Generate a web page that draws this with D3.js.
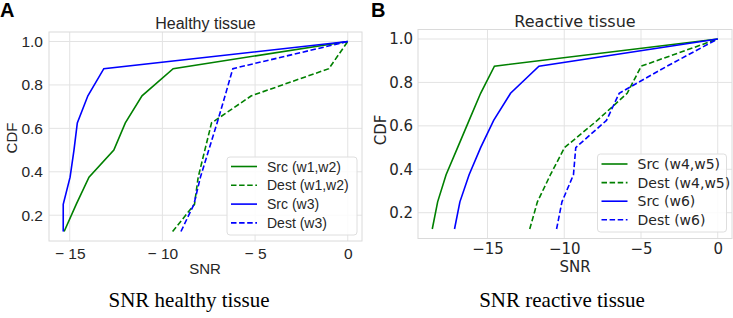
<!DOCTYPE html>
<html>
<head>
<meta charset="utf-8">
<script src="https://cdn.jsdelivr.net/npm/d3@7"></script>
<style>
  body { margin: 0; background: #fff; }
  svg { display: block; }
</style>
</head>
<body>
<div id="chart"></div>
<script>
// CDF levels shared by every curve
var cdf = [0.125, 0.25, 0.375, 0.5, 0.625, 0.75, 0.875, 1.0];

// Panel A - healthy tissue (SNR values)
var srcW12  = [-15.3, -14.65, -13.96, -12.62, -12.0, -11.1, -9.42, 0];
var destW12 = [-9.45, -8.27, -8.07, -7.71, -7.35, -5.2, -1.02, 0];
var srcW3   = [-15.35, -15.35, -14.98, -14.77, -14.59, -14.02, -13.16, 0];
var destW3  = [-9.0, -8.3, -7.95, -7.5, -7.05, -6.62, -6.2, 0];

// Panel B - reactive tissue (SNR values)
var srcW45  = [-18.6, -18.25, -17.7, -16.95, -16.2, -15.45, -14.55, 0];
var destW45 = [-12.25, -11.75, -10.9, -9.98, -7.85, -5.9, -4.98, 0];
var srcW6   = [-17.15, -16.8, -16.2, -15.45, -14.6, -13.5, -11.65, 0];
var destW6  = [-10.5, -10.15, -9.4, -9.25, -7.25, -6.42, -3.3, 0];

var xTicks = [-15, -10, -5, 0];
var yTicks = [0.2, 0.4, 0.6, 0.8, 1.0];

var w = 733, h = 318;

var svg = d3.select("#chart")
    .append("svg")
    .attr("width", w)
    .attr("height", h);

function drawPanel(p) {
    var g = svg.append("g").attr("font-family", p.font);

    // matplotlib-like 5% margins around the data
    var allX = d3.merge(p.series.map(function (s) { return s.values; }));
    var xMin = d3.min(allX), xMax = d3.max(allX);
    var xPad = (xMax - xMin) * 0.05;
    var yPad = (d3.max(cdf) - d3.min(cdf)) * 0.05;

    var x = d3.scaleLinear()
        .domain([xMin - xPad, xMax + xPad])
        .range([p.left, p.right]);
    var y = d3.scaleLinear()
        .domain([d3.min(cdf) - yPad, d3.max(cdf) + yPad])
        .range([p.bottom, p.top]);

    // grid
    g.selectAll(".vg").data(xTicks).enter().append("line")
        .attr("x1", function (d) { return x(d); })
        .attr("x2", function (d) { return x(d); })
        .attr("y1", p.top).attr("y2", p.bottom)
        .attr("stroke", "#e3e3e3").attr("stroke-width", 1);
    g.selectAll(".hg").data(yTicks).enter().append("line")
        .attr("y1", function (d) { return y(d); })
        .attr("y2", function (d) { return y(d); })
        .attr("x1", p.left).attr("x2", p.right)
        .attr("stroke", "#e3e3e3").attr("stroke-width", 1);

    // frame
    g.append("rect")
        .attr("x", p.left).attr("y", p.top)
        .attr("width", p.right - p.left).attr("height", p.bottom - p.top)
        .attr("fill", "none").attr("stroke", "#dadada");

    // axes (labels only, seaborn-style no tick marks)
    var xAxis = g.append("g")
        .attr("transform", "translate(0," + p.bottom + ")")
        .call(d3.axisBottom(x).tickValues(xTicks).tickSize(0).tickPadding(p.xPad)
            .tickFormat(p.xFormat));
    var yAxis = g.append("g")
        .attr("transform", "translate(" + p.left + ",0)")
        .call(d3.axisLeft(y).tickValues(yTicks).tickSize(0).tickPadding(p.yPad)
            .tickFormat(d3.format(".1f")));
    [xAxis, yAxis].forEach(function (a) {
        a.select(".domain").remove();
        a.selectAll("text")
            .attr("font-family", p.font)
            .attr("font-size", p.tickSize)
            .attr("fill", "#262626");
    });

    // curves
    var line = d3.line()
        .x(function (d) { return x(d[0]); })
        .y(function (d) { return y(d[1]); });
    p.series.forEach(function (s) {
        g.append("path")
            .datum(d3.zip(s.values, cdf))
            .attr("d", line)
            .attr("fill", "none")
            .attr("stroke", s.color)
            .attr("stroke-width", 1.6)
            .attr("stroke-dasharray", s.dashed ? "5.5,2.6" : null);
    });

    // legend
    var lg = p.legend;
    g.append("rect")
        .attr("x", lg.x).attr("y", lg.y)
        .attr("width", lg.w).attr("height", lg.h)
        .attr("rx", 3)
        .attr("fill", "#fff").attr("fill-opacity", 0.85)
        .attr("stroke", "#dedede");
    p.series.forEach(function (s, i) {
        var ry = lg.y + lg.first + i * lg.step;
        g.append("line")
            .attr("x1", lg.x + 4).attr("x2", lg.x + 30)
            .attr("y1", ry).attr("y2", ry)
            .attr("stroke", s.color).attr("stroke-width", 1.6)
            .attr("stroke-dasharray", s.dashed ? "5.5,2.6" : null);
        g.append("text")
            .attr("x", lg.x + lg.textX).attr("y", ry + 5)
            .attr("font-size", lg.size)
            .attr("fill", "#262626")
            .text(s.name);
    });

    // titles and labels
    g.append("text")
        .attr("x", (p.left + p.right) / 2).attr("y", p.top - 3)
        .attr("text-anchor", "middle")
        .attr("font-size", 16).attr("fill", "#262626")
        .text(p.title);
    g.append("text")
        .attr("x", p.xLabel[0]).attr("y", p.xLabel[1])
        .attr("text-anchor", "middle")
        .attr("font-size", 15).attr("fill", "#262626")
        .text("SNR");
    g.append("text")
        .attr("transform", "translate(" + p.yLabel[0] + "," + p.yLabel[1] + ") rotate(-90)")
        .attr("text-anchor", "middle")
        .attr("font-size", 15).attr("fill", "#262626")
        .text("CDF");
    g.append("text")
        .attr("x", p.letter[0]).attr("y", p.letter[1])
        .attr("font-family", "Liberation Sans, Arial, sans-serif")
        .attr("font-weight", "bold").attr("font-size", 20)
        .text(p.letterText);
    g.append("text")
        .attr("x", p.caption[0]).attr("y", p.caption[1])
        .attr("text-anchor", "middle")
        .attr("font-family", "Liberation Serif, Times New Roman, serif")
        .attr("font-size", 21).attr("fill", "#000")
        .text(p.captionText);
}

drawPanel({
    font: "Liberation Sans, Arial, sans-serif",
    left: 49, right: 362, top: 32, bottom: 241,
    tickSize: 15.5, xPad: 7, yPad: 6,
    xFormat: function (d) { return d < 0 ? "\u2212 " + Math.abs(d) : String(d); },
    title: "Healthy tissue",
    xLabel: [205, 274], yLabel: [17, 138],
    letter: [0, 17], letterText: "A",
    caption: [189, 307], captionText: "SNR healthy tissue",
    legend: { x: 227, y: 157, w: 130, h: 78, first: 9.5, step: 18.8, textX: 40, size: 14 },
    series: [
        { name: "Src (w1,w2)", values: srcW12, color: "#008000", dashed: false },
        { name: "Dest (w1,w2)", values: destW12, color: "#008000", dashed: true },
        { name: "Src (w3)", values: srcW3, color: "#0000ff", dashed: false },
        { name: "Dest (w3)", values: destW3, color: "#0000ff", dashed: true }
    ]
});

drawPanel({
    font: "DejaVu Sans, sans-serif",
    left: 418, right: 732, top: 29.5, bottom: 238.5,
    tickSize: 15, xPad: 5, yPad: 5,
    xFormat: function (d) { return d < 0 ? "\u2212" + Math.abs(d) : String(d); },
    title: "Reactive tissue",
    xLabel: [575, 272], yLabel: [386, 130],
    letter: [371, 17], letterText: "B",
    caption: [562, 307], captionText: "SNR reactive tissue",
    legend: { x: 597.5, y: 154, w: 129, h: 78, first: 10, step: 18.6, textX: 40, size: 14 },
    series: [
        { name: "Src (w4,w5)", values: srcW45, color: "#008000", dashed: false },
        { name: "Dest (w4,w5)", values: destW45, color: "#008000", dashed: true },
        { name: "Src (w6)", values: srcW6, color: "#0000ff", dashed: false },
        { name: "Dest (w6)", values: destW6, color: "#0000ff", dashed: true }
    ]
});
</script>
</body>
</html>
